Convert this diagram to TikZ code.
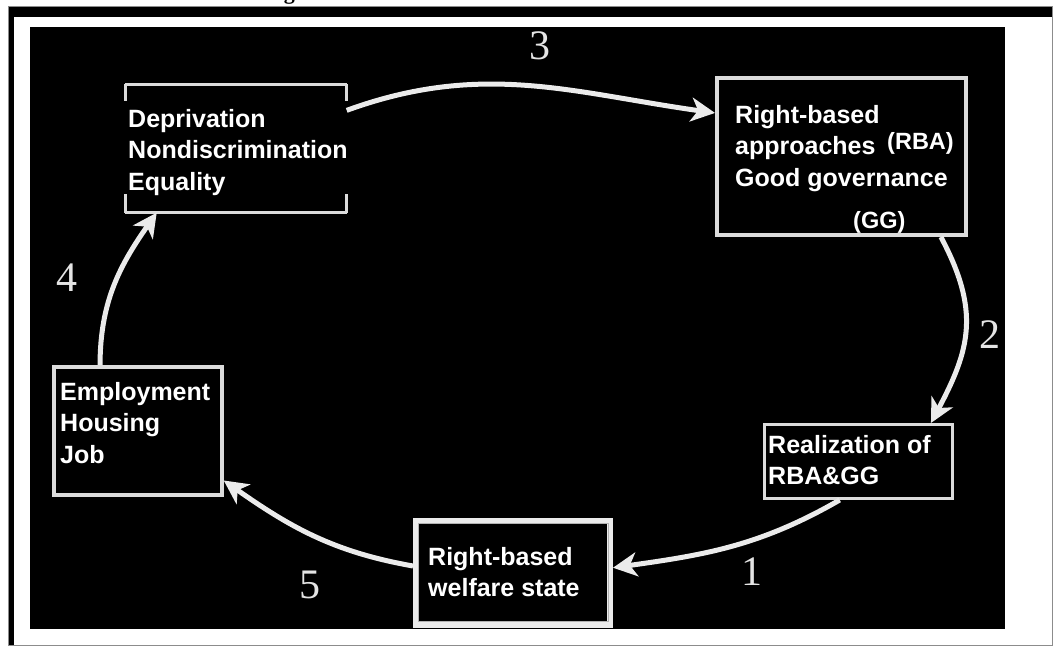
\documentclass[tikz,border=0pt]{standalone}
\usepackage{fontspec}
\setmainfont{Liberation Sans}
\newfontfamily\numfont{Liberation Serif}
\usetikzlibrary{arrows.meta, calc}

\definecolor{boxgray}{HTML}{DCDCDC}
\definecolor{arrowgray}{HTML}{EBEBEB}
\definecolor{numgray}{HTML}{E4E4E4}
\definecolor{framegray}{HTML}{8C8C8C}

\begin{document}
\begin{tikzpicture}[
    x=1pt, y=1pt,
    box/.style={draw=boxgray, line width=3pt, inner sep=0pt},
    boxtext/.style={text=white, font=\bfseries\fontsize{25}{31.5}\selectfont, align=left, anchor=north west, inner sep=0pt},
    tag/.style={text=white, font=\bfseries\fontsize{23.5}{23.5}\selectfont, anchor=base west, inner sep=0pt},
    num/.style={text=numgray, font=\numfont\fontsize{42}{42}\selectfont, inner sep=0pt},
    flow/.style={draw=arrowgray, line width=5pt, -{Stealth[length=24pt, width=24pt, inset=7pt]}},
    title/.style={font=\numfont\bfseries\fontsize{22}{22}\selectfont, anchor=base west, inner sep=0pt}
]
\useasboundingbox (0,0) rectangle (1058,652);

% Page and frame
\fill[white] (0,0) rectangle (1058,652);
\fill[black] (8,635) rectangle (1052,646);
\fill[black] (8,7) rectangle (14,646);
\draw[framegray, line width=0.8pt] (8,7) rectangle (1052,646);
\fill[black] (30,23) rectangle (1005,625);

% Caption, cut off at the top edge
\begin{scope}
\clip (0,646.5) rectangle (1058,652);
\node[title] (caption) at (264,652) {Figure 1: Social Cohesion and the Welfare State};
\end{scope}

% Boxes
\node[inner sep=0pt, minimum width=221pt, minimum height=128pt] (depr) at (236,503.5) {};
\node[box, line width=4pt, minimum width=249pt, minimum height=157pt] (rba) at (841.5,495.5) {};
\node[box, minimum width=188pt, minimum height=74pt] (real) at (858.5,190.5) {};
\node[box, line width=6pt, draw=white!92!black, minimum width=194pt, minimum height=104pt] (wel) at (513,79) {};
\node[box, line width=3.5pt, minimum width=168pt, minimum height=128pt] (emp) at (138,221) {};

% open sides of the first box
\draw[boxgray, line width=3pt] (depr.north west) -- (depr.north east);
\draw[boxgray, line width=3pt] (depr.south west) -- (depr.south east);
\foreach \side in {west, east} {
    \draw[boxgray, line width=3pt] (depr.north \side) -- ++(0,-17);
    \draw[boxgray, line width=3pt] (depr.south \side) -- ++(0,19);
}
\draw[gray!60, line width=1pt] ([shift={(5,-6)}]wel.north west) rectangle ([shift={(-5,6)}]wel.south east);

% Box texts
\node[boxtext] (depr-text) at (128,543) {Deprivation\\Nondiscrimination\\Equality};
\node[boxtext] (rba-text) at (735,547) {Right-based\\approaches\\Good governance};
\node[tag] (rba-tag) at (887,502) {(RBA)};
\node[tag] (gg-tag) at (853,423) {(GG)};
\node[boxtext] (real-text) at (768,217) {Realization of\\RBA\&GG};
\node[boxtext] (wel-text) at (428,105) {Right-based\\welfare state};
\node[boxtext] (emp-text) at (60,270) {Employment\\Housing\\Job};

% Cycle
\draw[flow] (depr.19) to[out=20, in=172] (rba.161);
\draw[flow] (rba.-39) to[out=-62, in=62, looseness=1.15] (real.28);
\draw[flow] (real.-116) to[out=210, in=8] (wel.3);
\draw[flow] (wel.176) to[out=170, in=-35] (emp.-30);
\draw[flow] (emp.120) to[out=90, in=235] (depr.219);

% Step numbers
\foreach \n/\pos in {1/{752,80}, 2/{990,317}, 3/{540,606}, 4/{67,374}, 5/{310,67}} {
    \node[num] (step\n) at (\pos) {\n};
}

\end{tikzpicture}
\end{document}
